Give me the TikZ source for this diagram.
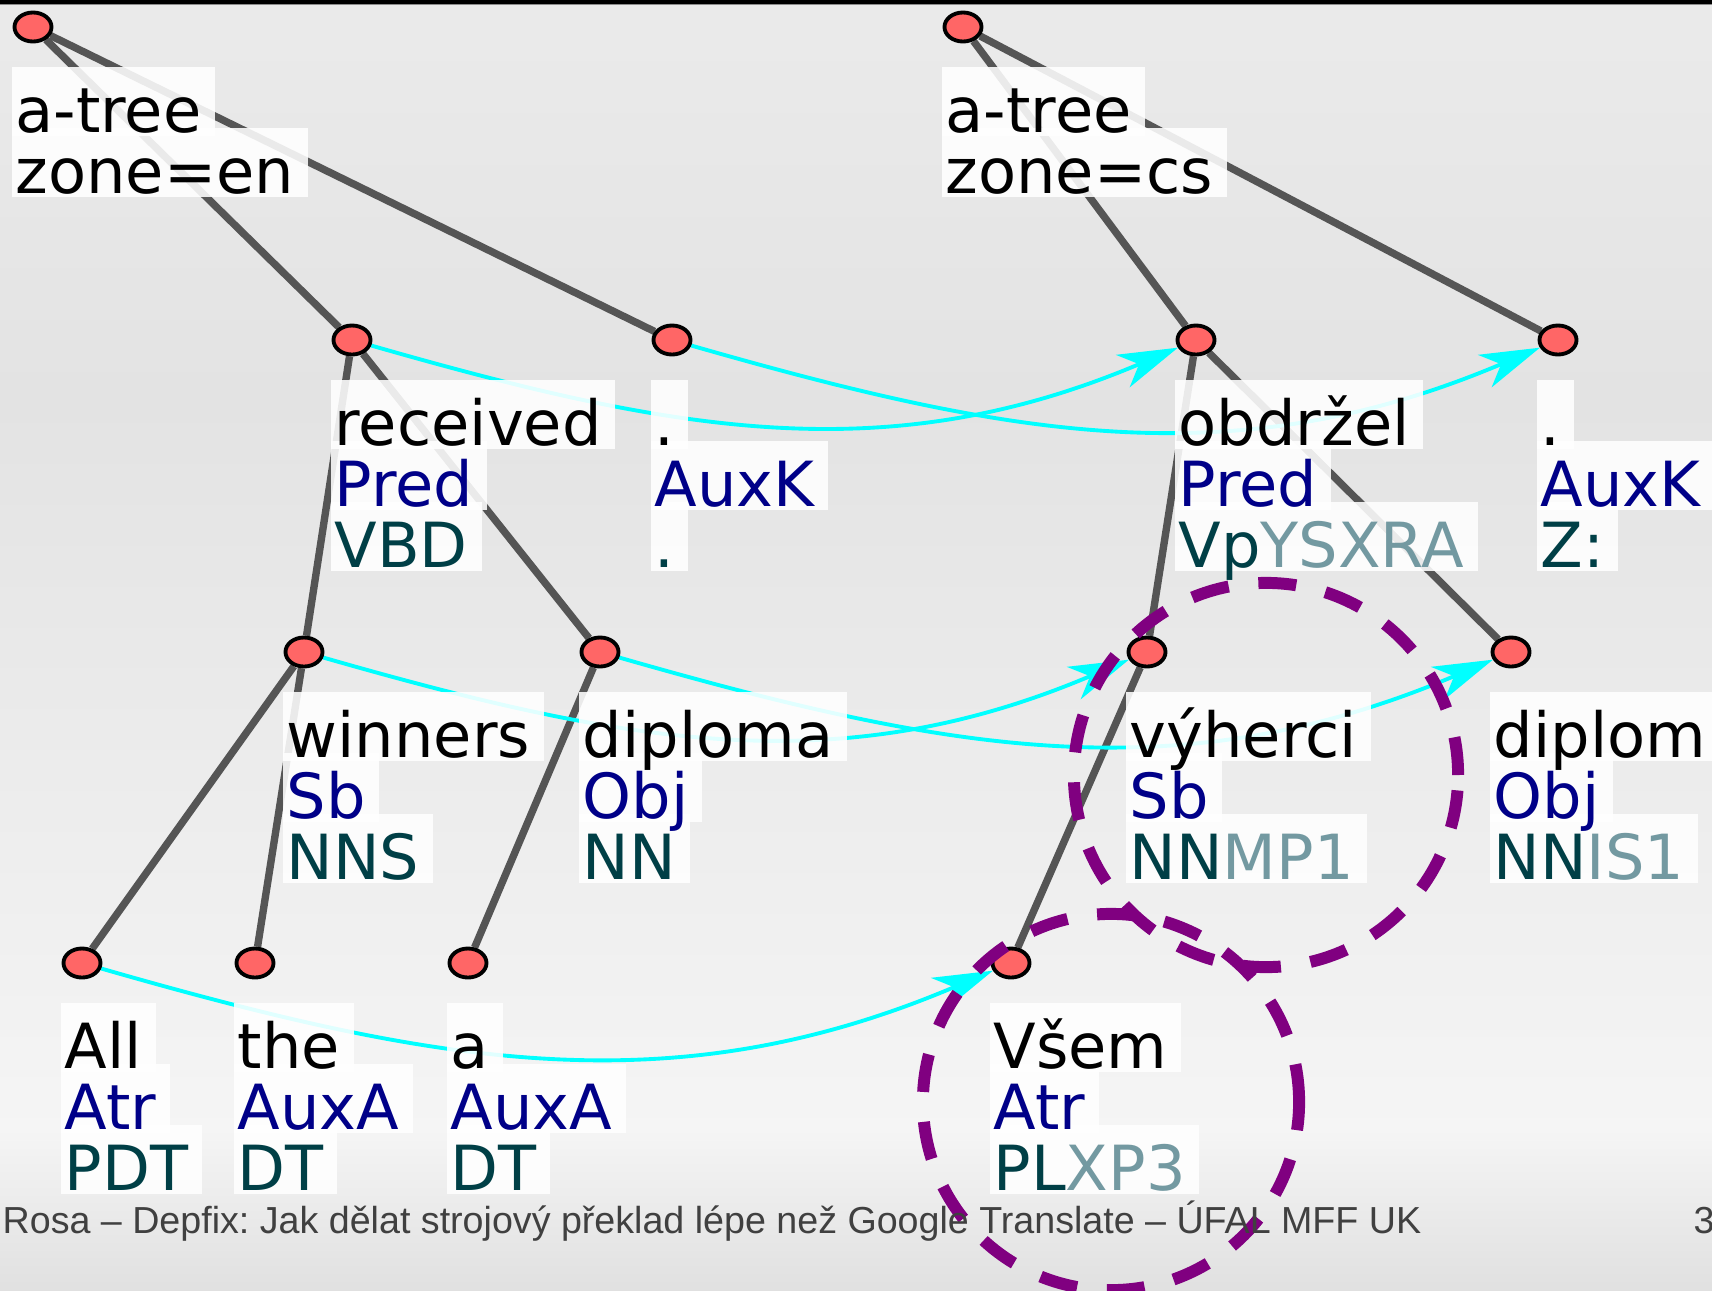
\documentclass[tikz,border=0pt]{standalone}
\usepackage{fontspec}
\setmainfont{DejaVu Sans}
\newfontfamily\footfont{Liberation Sans}
\frenchspacing
\usetikzlibrary{shapes.geometric, arrows.meta}

\definecolor{nodered}{HTML}{FF6666}
\definecolor{depgrey}{HTML}{555555}
\definecolor{afuncol}{HTML}{000088}
\definecolor{tagcol}{HTML}{003F46}
\definecolor{tagrest}{HTML}{7399A1}
\definecolor{aligncyan}{HTML}{00FFFF}
\definecolor{errpurple}{HTML}{800080}
\definecolor{footgrey}{HTML}{404040}

\pgfdeclarelayer{back}
\pgfdeclarelayer{links}
\pgfdeclarelayer{boxes}
\pgfsetlayers{back,links,boxes,main}

\tikzstyle{tnode} = [ellipse, draw=black, line width=1.1pt, fill=nodered, minimum width=0.37cm, minimum height=0.29cm, inner sep=0pt]
\tikzstyle{lbox} = [anchor=base west, inner xsep=0.03cm, inner ysep=0.02cm, text height=0.62cm, text depth=0.01cm, font=\fontsize{17.7pt}{17.8pt}\selectfont, execute at end node={\hspace*{0.1cm}}]
\tikzstyle{boxfill} = [fill=white, fill opacity=0.88]
\tikzstyle{form} = [lbox, text=black]
\tikzstyle{afun} = [lbox, text=afuncol]
\tikzstyle{tag} = [lbox, text=tagcol]
\tikzstyle{dep} = [line width=2.1pt, draw=depgrey]
\tikzstyle{arrow} = [line width=1.1pt, draw=aligncyan, -{Stealth[length=17pt, width=10pt, inset=5pt]}]
\tikzstyle{errcircle} = [circle, draw=errpurple, line width=3.4pt, dash pattern=on 10.8pt off 8.5pt, minimum size=3.84cm, inner sep=0pt]

% tail of a Czech tag, printed lighter
\newcommand{\tagtail}[1]{\textcolor{tagrest}{#1}}

% one tree node: name, position, form, afun, tag
\newcommand{\anode}[5]{%
  \node (#1) [tnode] at (#2) {};
  \node (#1-form) [form] at ([xshift=-0.21cm, yshift=-1.05cm]#1.center) {#3};
  \node (#1-afun) [afun] at ([yshift=-0.61cm]#1-form.base west) {#4};
  \node (#1-tag) [tag] at ([yshift=-0.61cm]#1-afun.base west) {#5};
  \begin{pgfonlayer}{boxes}
    \foreach \lyr in {form,afun,tag}
      \fill [boxfill] (#1-\lyr.south west) rectangle (#1-\lyr.north east);
  \end{pgfonlayer}
}

\begin{document}
\begin{tikzpicture}[x=0.01cm, y=-0.01cm]

\clip (0,0) rectangle (1712,1290);

% slide background
\begin{pgfonlayer}{back}
\shade[top color=black!8, bottom color=black!11] (0,4) rectangle (1712,400);
\shade[top color=black!11, bottom color=black!4] (0,400) rectangle (1712,1130);
\shade[top color=black!4, bottom color=black!12] (0,1130) rectangle (1712,1290);
\fill[black] (0,0) rectangle (1712,4);
\fill[black!45] (0,4) rectangle (1712,5);
\end{pgfonlayer}

% English tree
\node (enroot) [tnode] at (33,27) {};
\node (enroot-form) [form] at ([xshift=-0.21cm, yshift=-1.05cm]enroot.center) {a-tree};
\node (enroot-zone) [form] at ([yshift=-0.61cm]enroot-form.base west) {zone=en};

\anode{received}{352,340}{received}{Pred}{VBD}
\anode{enstop}{672,340}{.}{AuxK}{.}
\anode{winners}{304,652}{winners}{Sb}{NNS}
\anode{diploma}{600,652}{diploma}{Obj}{NN}
\anode{all}{82,963}{All}{Atr}{PDT}
\anode{the}{255,963}{the}{AuxA}{DT}
\anode{a}{468,963}{a}{AuxA}{DT}

% Czech tree
\node (csroot) [tnode] at (963,27) {};
\node (csroot-form) [form] at ([xshift=-0.21cm, yshift=-1.05cm]csroot.center) {a-tree};
\node (csroot-zone) [form] at ([yshift=-0.61cm]csroot-form.base west) {zone=cs};

\anode{obdrzel}{1196,340}{obdržel}{Pred}{Vp\tagtail{YSXRA}}
\anode{csstop}{1558,340}{.}{AuxK}{Z:}
\anode{vyherci}{1147,652}{výherci}{Sb}{NN\tagtail{MP1}}
\anode{diplom}{1511,652}{diplom}{Obj}{NN\tagtail{IS1}}
\anode{vsem}{1011,963}{Všem}{Atr}{PL\tagtail{XP3}}

\begin{pgfonlayer}{boxes}
\foreach \lyr in {enroot-form,enroot-zone,csroot-form,csroot-zone}
  \fill [boxfill] (\lyr.south west) rectangle (\lyr.north east);
\end{pgfonlayer}

\begin{pgfonlayer}{links}
% dependencies
\draw [dep] (enroot) -- (received);
\draw [dep] (enroot) -- (enstop);
\draw [dep] (received) -- (winners);
\draw [dep] (received) -- (diploma);
\draw [dep] (winners) -- (all);
\draw [dep] (winners) -- (the);
\draw [dep] (diploma) -- (a);
\draw [dep] (csroot) -- (obdrzel);
\draw [dep] (csroot) -- (csstop);
\draw [dep] (obdrzel) -- (vyherci);
\draw [dep] (obdrzel) -- (diplom);
\draw [dep] (vyherci) -- (vsem);

% word alignment
\draw [arrow] (received) to[out=-16, in=203] (obdrzel);
\draw [arrow] (enstop) to[out=-16, in=203] (csstop);
\draw [arrow] (winners) to[out=-16, in=203] (vyherci);
\draw [arrow] (diploma) to[out=-16, in=203] (diplom);
\draw [arrow] (all) to[out=-16, in=203] (vsem);
\end{pgfonlayer}

% agreement errors
\node (err1) [errcircle] at (1266,775) {};
\node (err2) [errcircle, minimum size=3.76cm] at (1111,1102) {};

% footline
\node (footer) [anchor=base west, inner sep=0pt, text=footgrey, font=\footfont\fontsize{10.7pt}{12pt}\selectfont] at (2,1233) {Rosa – Depfix: Jak dělat strojový překlad lépe než Google Translate – ÚFAL MFF UK};
\node (pageno) [anchor=base west, inner sep=0pt, text=footgrey, font=\footfont\fontsize{10.7pt}{12pt}\selectfont] at (1693,1233) {3};

\end{tikzpicture}
\end{document}
